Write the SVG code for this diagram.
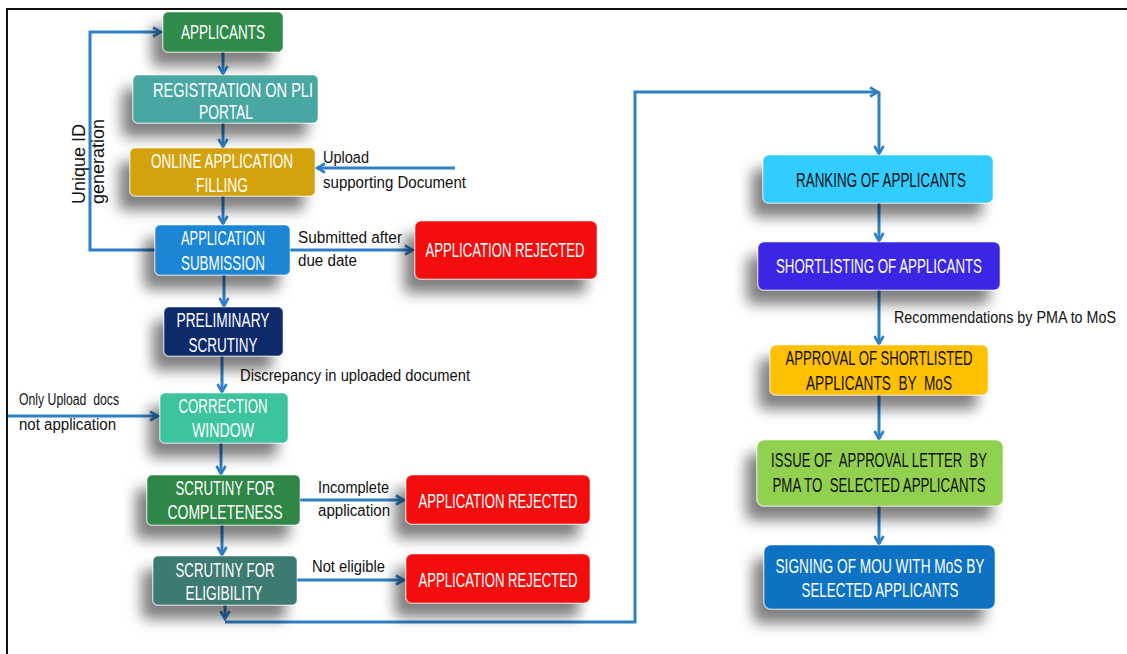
<svg xmlns="http://www.w3.org/2000/svg" width="1127" height="654" viewBox="0 0 1127 654">
<defs>
<filter id="sh" x="-30%" y="-50%" width="160%" height="220%">
<feGaussianBlur in="SourceAlpha" stdDeviation="7"/>
<feOffset dx="-11" dy="14" result="b"/>
<feFlood flood-color="#000" flood-opacity="0.5"/>
<feComposite in2="b" operator="in"/>
<feMerge><feMergeNode/><feMergeNode in="SourceGraphic"/></feMerge>
</filter>
<marker id="ah" viewBox="0 0 12 12" refX="10" refY="6" markerWidth="12" markerHeight="12" markerUnits="userSpaceOnUse" orient="auto">
<path d="M2,1.5 L10,6 L2,10.5" fill="none" stroke="#2f7fc6" stroke-width="2.6" stroke-linejoin="miter"/>
</marker>
<style>
.box{stroke:#ffffff;stroke-opacity:0.35;stroke-width:1.5;filter:url(#sh)}
.nt{font-family:"Liberation Sans Narrow","Liberation Sans",Arial,sans-serif;font-size:20px;text-anchor:middle;fill:#ffffff}
.dk{fill:#111111}
.lb{font-family:"Liberation Sans",Arial,sans-serif;font-size:16px;fill:#111111}
.cn{fill:none;stroke:#2f7fc6;stroke-width:3}
</style>
</defs>
<rect width="1127" height="654" fill="#ffffff"/>
<path d="M7,654 V9 H1127" fill="none" stroke="#111" stroke-width="2"/>

<g id="connectors">
<path class="cn" d="M155,250 H90 V32 H161" marker-end="url(#ah)"/>
<path class="cn" d="M223,51 V74" marker-end="url(#ah)"/>
<path class="cn" d="M223,123 V147" marker-end="url(#ah)"/>
<path class="cn" d="M223,196 V224" marker-end="url(#ah)"/>
<path class="cn" d="M224,275 V306" marker-end="url(#ah)"/>
<path class="cn" d="M222,356 V392" marker-end="url(#ah)"/>
<path class="cn" d="M221,443 V474" marker-end="url(#ah)"/>
<path class="cn" d="M222,525 V555" marker-end="url(#ah)"/>
<path class="cn" d="M225,605 V619" marker-end="url(#ah)"/>
<path class="cn" d="M225,622 H635 V92 H878" marker-end="url(#ah)"/>
<path class="cn" d="M879,92 V154" marker-end="url(#ah)"/>
<path class="cn" d="M455,168 H317" marker-end="url(#ah)"/>
<path class="cn" d="M290,250 H413" marker-end="url(#ah)"/>
<path class="cn" d="M8,416 H158" marker-end="url(#ah)"/>
<path class="cn" d="M300,500 H404" marker-end="url(#ah)"/>
<path class="cn" d="M297,580 H404" marker-end="url(#ah)"/>
<path class="cn" d="M879,203 V241" marker-end="url(#ah)"/>
<path class="cn" d="M879,290 V344" marker-end="url(#ah)"/>
<path class="cn" d="M879,395 V439" marker-end="url(#ah)"/>
<path class="cn" d="M879,506 V544" marker-end="url(#ah)"/>
</g>

<g id="labels">
<text class="lb" transform="translate(85,204) rotate(-90)" style="font-size:18px">Unique ID</text>
<text class="lb" transform="translate(104,204) rotate(-90)" style="font-size:18px">generation</text>
<text class="lb" x="323" y="163" textLength="46" lengthAdjust="spacingAndGlyphs">Upload</text>
<text class="lb" x="323" y="188" textLength="143" lengthAdjust="spacingAndGlyphs">supporting Document</text>
<text class="lb" x="298" y="243" textLength="104" lengthAdjust="spacingAndGlyphs">Submitted after</text>
<text class="lb" x="298" y="266" textLength="59" lengthAdjust="spacingAndGlyphs">due date</text>
<text class="lb" x="240" y="381" textLength="230" lengthAdjust="spacingAndGlyphs">Discrepancy in uploaded document</text>
<text class="lb" x="19" y="405" textLength="100" lengthAdjust="spacingAndGlyphs" xml:space="preserve">Only Upload  docs</text>
<text class="lb" x="19" y="430" textLength="97" lengthAdjust="spacingAndGlyphs">not application</text>
<text class="lb" x="318" y="493" textLength="71" lengthAdjust="spacingAndGlyphs">Incomplete</text>
<text class="lb" x="318" y="516" textLength="72" lengthAdjust="spacingAndGlyphs">application</text>
<text class="lb" x="312" y="572" textLength="73" lengthAdjust="spacingAndGlyphs">Not eligible</text>
<text class="lb" x="894" y="323" textLength="222" lengthAdjust="spacingAndGlyphs">Recommendations by PMA to MoS</text>
</g>

<g id="n-applicants">
<rect class="box" x="163" y="12" width="120" height="40" rx="5" fill="#2e8b4a"/>
<text class="nt" x="223" y="39" textLength="84" lengthAdjust="spacingAndGlyphs">APPLICANTS</text>
</g>
<g id="n-registration">
<rect class="box" x="133" y="75" width="185" height="48" rx="5" fill="#4aa7a3"/>
<text class="nt" x="233" y="97" textLength="160" lengthAdjust="spacingAndGlyphs">REGISTRATION ON PLI</text>
<text class="nt" x="226" y="119" textLength="54" lengthAdjust="spacingAndGlyphs">PORTAL</text>
</g>
<g id="n-online">
<rect class="box" x="130" y="148" width="185" height="48" rx="5" fill="#d4a20f"/>
<text class="nt" x="222" y="168" textLength="142" lengthAdjust="spacingAndGlyphs">ONLINE APPLICATION</text>
<text class="nt" x="222" y="192" textLength="52" lengthAdjust="spacingAndGlyphs">FILLING</text>
</g>
<g id="n-submission">
<rect class="box" x="155" y="225" width="135" height="50" rx="5" fill="#1f86d6"/>
<text class="nt" x="223" y="245" textLength="84" lengthAdjust="spacingAndGlyphs">APPLICATION</text>
<text class="nt" x="223" y="270" textLength="84" lengthAdjust="spacingAndGlyphs">SUBMISSION</text>
</g>
<g id="n-rejected1">
<rect class="box" x="415" y="221" width="182" height="58" rx="6" fill="#f40808"/>
<text class="nt" x="505" y="257" textLength="159" lengthAdjust="spacingAndGlyphs">APPLICATION REJECTED</text>
</g>
<g id="n-preliminary">
<rect class="box" x="164" y="307" width="119" height="49" rx="5" fill="#0c2a6a"/>
<text class="nt" x="223" y="327" textLength="93" lengthAdjust="spacingAndGlyphs">PRELIMINARY</text>
<text class="nt" x="223" y="352" textLength="69" lengthAdjust="spacingAndGlyphs">SCRUTINY</text>
</g>
<g id="n-correction">
<rect class="box" x="160" y="393" width="128" height="50" rx="5" fill="#3cc39e"/>
<text class="nt" x="223" y="413" textLength="89" lengthAdjust="spacingAndGlyphs">CORRECTION</text>
<text class="nt" x="223" y="437" textLength="62" lengthAdjust="spacingAndGlyphs">WINDOW</text>
</g>
<g id="n-completeness">
<rect class="box" x="147" y="475" width="153" height="50" rx="5" fill="#2e8747"/>
<text class="nt" x="225" y="495" textLength="99" lengthAdjust="spacingAndGlyphs">SCRUTINY FOR</text>
<text class="nt" x="225" y="519" textLength="115" lengthAdjust="spacingAndGlyphs">COMPLETENESS</text>
</g>
<g id="n-rejected2">
<rect class="box" x="406" y="475" width="184" height="49" rx="6" fill="#f40808"/>
<text class="nt" x="498" y="508" textLength="159" lengthAdjust="spacingAndGlyphs">APPLICATION REJECTED</text>
</g>
<g id="n-eligibility">
<rect class="box" x="153" y="556" width="144" height="49" rx="5" fill="#3e7a72"/>
<text class="nt" x="225" y="577" textLength="99" lengthAdjust="spacingAndGlyphs">SCRUTINY FOR</text>
<text class="nt" x="224" y="600" textLength="77" lengthAdjust="spacingAndGlyphs">ELIGIBILITY</text>
</g>
<g id="n-rejected3">
<rect class="box" x="406" y="554" width="184" height="49" rx="6" fill="#f40808"/>
<text class="nt" x="498" y="587" textLength="159" lengthAdjust="spacingAndGlyphs">APPLICATION REJECTED</text>
</g>
<g id="n-ranking">
<rect class="box" x="763" y="155" width="230" height="48" rx="6" fill="#33ccff"/>
<text class="nt dk" x="881" y="187" textLength="170" lengthAdjust="spacingAndGlyphs">RANKING OF APPLICANTS</text>
</g>
<g id="n-shortlisting">
<rect class="box" x="758" y="242" width="242" height="48" rx="6" fill="#3a28e6"/>
<text class="nt" x="879" y="273" textLength="206" lengthAdjust="spacingAndGlyphs">SHORTLISTING OF APPLICANTS</text>
</g>
<g id="n-approval">
<rect class="box" x="770" y="345" width="218" height="50" rx="6" fill="#ffc000"/>
<text class="nt dk" x="879" y="365" textLength="187" lengthAdjust="spacingAndGlyphs">APPROVAL OF SHORTLISTED</text>
<text class="nt dk" x="879" y="390" textLength="146" lengthAdjust="spacingAndGlyphs" xml:space="preserve">APPLICANTS  BY  MoS</text>
</g>
<g id="n-issue">
<rect class="box" x="757" y="440" width="246" height="66" rx="7" fill="#92d050"/>
<text class="nt dk" x="879" y="467" textLength="216" lengthAdjust="spacingAndGlyphs" xml:space="preserve">ISSUE OF  APPROVAL LETTER  BY</text>
<text class="nt dk" x="879" y="492" textLength="213" lengthAdjust="spacingAndGlyphs" xml:space="preserve">PMA TO  SELECTED APPLICANTS</text>
</g>
<g id="n-signing">
<rect class="box" x="764" y="545" width="231" height="64" rx="7" fill="#0b72c4"/>
<text class="nt" x="880" y="573" textLength="209" lengthAdjust="spacingAndGlyphs">SIGNING OF MOU WITH MoS BY</text>
<text class="nt" x="880" y="597" textLength="157" lengthAdjust="spacingAndGlyphs">SELECTED APPLICANTS</text>
</g>
</svg>
